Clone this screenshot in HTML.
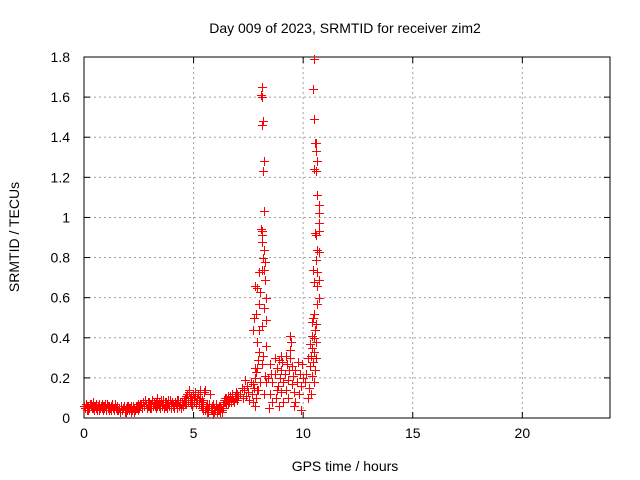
<!DOCTYPE html>
<html><head><meta charset="utf-8"><style>
body{margin:0;background:#fff}
svg{display:block;font-family:"Liberation Sans",sans-serif;font-size:14px}
</style></head><body>
<svg id="chart" width="640" height="480">
<text x="345" y="33" text-anchor="middle">Day 009 of 2023, SRMTID for receiver zim2</text>
<text x="345" y="471" text-anchor="middle">GPS time / hours</text>
<text transform="translate(19,237) rotate(-90)" text-anchor="middle">SRMTID / TECUs</text>
<g id="grid"></g>
<g id="axes"></g>
<g id="marks" fill="#ff0000"></g>
</svg>
<script>
const xTicks=[0,5,10,15,20];
const yTicks=[0,0.2,0.4,0.6,0.8,1,1.2,1.4,1.6,1.8];
const yTickLabels=["0","0.2","0.4","0.6","0.8","1","1.2","1.4","1.6","1.8"];
const baseTimes=[0,0.05,0.1,0.15,0.2,0.25,0.3,0.35,0.4,0.45,0.5,0.55,0.6,0.65,0.7,0.75,0.8,0.85,0.9,0.95,1,1.05,1.1,1.15,1.2,1.25,1.3,1.35,1.4,1.45,1.5,1.55,1.6,1.65,1.7,1.75,1.8,1.85,1.9,1.95,2,2.05,2.1,2.15,2.2,2.25,2.3,2.35,2.4,2.45,2.5,2.55,2.6,2.65,2.7,2.75,2.8,2.85,2.9,2.95,3,3.05,3.1,3.15,3.2,3.25,3.3,3.35,3.4,3.45,3.5,3.55,3.6,3.65,3.7,3.75,3.8,3.85,3.9,3.95,4,4.05,4.1,4.15,4.2,4.25,4.3,4.35,4.4,4.45,4.5,4.55,4.6,4.65,4.7,4.75,4.8,4.85,4.9,4.95,5,5.05,5.1,5.15,5.2,5.25,5.3,5.35,5.4,5.45,5.5,5.55,5.6,5.65,5.7,5.75,5.8,5.85,5.9,5.95,6,6.05,6.1,6.15,6.2,6.25,6.3,6.35,6.4,6.45,6.5,6.55,6.6,6.65,6.7,6.75,6.8,6.85,6.9,6.95,7];
const baseValues1=[.06,.05,.07,.04,.06,.05,.07,.06,.05,.04,.06,.07,.05,.06,.04,.05,.07,.06,.05,.06,.04,.07,.05,.06,.05,.04,.06,.05,.07,.05,.06,
.04,.05,.03,.06,.04,.05,.04,.03,.06,.05,.04,.05,.06,.04,.05,.03,.05,.06,.04,.05,
.06,.07,.05,.08,.06,.09,.07,.06,.08,.05,.07,.09,.06,.08,.07,.05,.06,.08,.07,.09,.06,.07,.05,.08,.06,.07,.09,.06,.05,.08,.07,.06,.08,.07,.05,.09,.06,.08,.07,.06,
.08,.10,.07,.12,.09,.14,.08,.11,.06,.10,.13,.08,.09,.12,.07,.10,
.06,.09,.04,.14,.05,.07,.03,.06,.12,.05,.04,.07,.03,.06,.05,.04,.06,.03,.05,.04,
.07,.09,.08,.10,.07,.09,.11,.08,.10,.09,.08,.11,.10,.12];
const baseValues2=[.05,.07,.06,.04,.05,.07,.06,.05,.08,.06,.05,.04,.06,.07,.05,.06,.05,.04,.06,.07,.05,.06,.04,.05,.06,.07,.05,.04,.06,.05,.04,
.05,.03,.06,.04,.05,.06,.03,.05,.04,.06,.05,.03,.04,.06,.05,.04,.06,.05,.07,.06,
.07,.05,.08,.06,.09,.07,.05,.08,.06,.07,.05,.09,.07,.06,.08,.10,.07,.06,.05,.08,.07,.09,.06,.08,.05,.07,.06,.09,.07,.08,.06,.05,.07,.09,.08,.06,.07,.05,.08,.07,
.09,.07,.11,.08,.13,.10,.07,.09,.12,.08,.11,.07,.10,.09,.14,.08,
.05,.08,.13,.04,.06,.03,.05,.07,.04,.06,.02,.05,.04,.07,.03,.05,.04,.06,.03,.05,
.08,.10,.07,.09,.11,.08,.10,.09,.12,.08,.10,.13,.09,.11];
const eventTimes=[7.1,7.2,7.25,7.3,7.35,7.4,7.45,7.5,7.55,7.6,7.65,7.7,7.75,7.8,7.85,7.9,7.95,7.8,7.7,
8.12,8.08,8.1,8.15,8.12,8.2,8.15,8.2,8.1,8.12,8.08,8.1,8.2,8.15,8.25,8.1,8.2,8.0,8.25,7.8,7.9,8.05,8.3,8.0,8.2,7.75,7.85,8.3,8.0,7.7,8.1,7.9,8.3,8.0,8.15,7.95,8.1,7.85,8.25,7.8,8.3,7.9,8.05,8.2,
8.4,8.5,8.5,8.6,8.6,8.7,8.7,8.75,8.8,8.85,8.9,8.9,8.95,9.0,9.0,9.05,9.1,9.1,9.15,9.2,9.25,9.3,9.3,9.35,9.4,9.4,9.45,9.42,9.5,9.5,9.55,9.6,9.6,9.65,9.7,9.75,9.8,9.85,9.9,9.9,9.95,10.0,8.45,8.8,9.2,8.55,9.0,9.65,
10.5,10.45,10.5,10.55,10.6,10.6,10.65,10.5,10.58,10.65,10.7,10.7,10.7,10.72,10.55,10.6,10.65,10.7,10.6,10.65,10.7,10.65,10.45,10.5,10.7,10.65,10.5,10.45,10.6,10.4,10.55,10.4,10.5,10.6,10.3,10.4,10.5,10.35,10.6,10.2,10.45,10.3,10.15,10.4,10.55,10.1,10.25,10.35,10.2,10.5];
const eventValues=[.12,.15,.10,.14,.19,.11,.16,.13,.09,.18,.12,.08,.15,.20,.10,.25,.14,.06,.17,
1.65,1.61,1.60,1.48,1.46,1.28,1.23,1.03,0.93,0.91,0.94,0.88,0.84,0.80,0.78,0.74,0.74,0.73,0.69,0.66,0.65,0.63,0.60,0.57,0.55,0.50,0.52,0.49,0.44,0.44,0.46,0.38,0.36,0.33,0.31,0.29,0.27,0.23,0.21,0.25,0.18,0.14,0.18,0.12,
0.20,0.12,0.27,0.18,0.08,0.30,0.22,0.10,0.25,0.16,0.06,0.29,0.20,0.13,0.24,0.28,0.18,0.08,0.22,0.14,0.27,0.19,0.10,0.24,0.30,0.41,0.38,0.34,0.26,0.17,0.21,0.13,0.06,0.24,0.18,0.28,0.12,0.22,0.04,0.16,0.27,0.20,0.05,0.14,0.31,0.22,0.31,0.08,
1.79,1.64,1.49,1.37,1.37,1.33,1.28,1.24,1.23,1.11,1.06,1.02,0.97,0.93,0.92,0.91,0.84,0.83,0.79,0.73,0.69,0.66,0.74,0.68,0.60,0.57,0.52,0.50,0.47,0.48,0.44,0.41,0.40,0.38,0.37,0.35,0.33,0.31,0.30,0.30,0.28,0.26,0.22,0.21,0.24,0.18,0.15,0.12,0.10,0.18];

const L=84,R=610,T=57,B=418,X0=0,X1=24,Y0=0,Y1=1.8;
const sx=v=>L+(v-X0)/(X1-X0)*(R-L);
const sy=v=>B-(v-Y0)/(Y1-Y0)*(B-T);
const NS="http://www.w3.org/2000/svg";
function mk(tag,attrs,parent){const e=document.createElementNS(NS,tag);for(const k in attrs)e.setAttribute(k,attrs[k]);parent.appendChild(e);return e;}
const grid=document.getElementById('grid'),axes=document.getElementById('axes'),marks=document.getElementById('marks');
xTicks.forEach(t=>{
  const x=sx(t);
  if(t>0){const g=mk('line',{x1:x,x2:x,y1:T,y2:B,stroke:'#a0a0a0','stroke-dasharray':'2,3','stroke-width':1},grid);
  
  }
  mk('line',{x1:x,x2:x,y1:B,y2:B-6,stroke:'#000'},axes);
  mk('line',{x1:x,x2:x,y1:T,y2:T+6,stroke:'#000'},axes);
  const tx=mk('text',{x:x,y:B+20,'text-anchor':'middle'},axes);tx.textContent=t;
  
  
});
yTicks.forEach((t,i)=>{
  const y=sy(t);
  if(t>0&&t<1.8){const g=mk('line',{x1:L,x2:R,y1:y,y2:y,stroke:'#a0a0a0','stroke-dasharray':'2,3','stroke-width':1},grid);
  
  }
  mk('line',{x1:L,x2:L+6,y1:y,y2:y,stroke:'#000'},axes);
  mk('line',{x1:R,x2:R-6,y1:y,y2:y,stroke:'#000'},axes);
  const tx=mk('text',{x:L-14,y:y+5,'text-anchor':'end'},axes);tx.textContent=yTickLabels[i];
  
  
});
mk('rect',{x:L,y:T,width:R-L,height:B-T,fill:'none',stroke:'#000','stroke-width':1},axes);
function plus(t,v){
  const x=Math.round(sx(t)),y=Math.round(sy(v));
  const p=mk('path',{d:`M${x-4},${y}h9v1h-9zM${x},${y-4}h1v9h-1z`,fill:'#ff0000'},marks);
  
  
}
baseTimes.forEach((t,i)=>{plus(t,baseValues1[i]);plus(t+0.025,baseValues2[i]);});
eventTimes.forEach((t,i)=>plus(t,eventValues[i]));
</script>
</body></html>
